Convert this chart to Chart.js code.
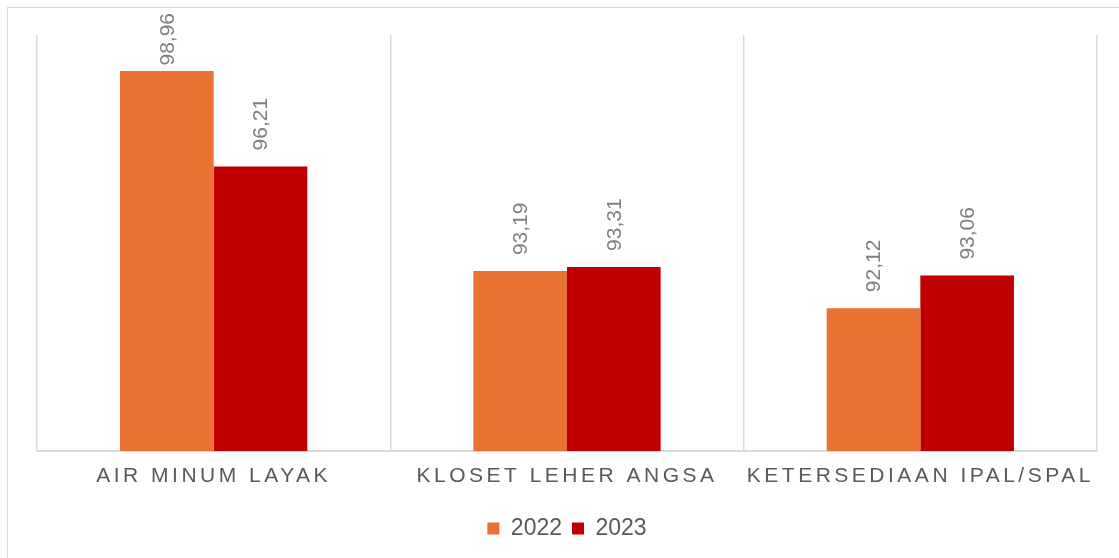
<!DOCTYPE html>
<html>
<head>
<meta charset="utf-8">
<script src="https://cdn.jsdelivr.net/npm/chart.js@4/dist/chart.umd.min.js"></script>
<style>
  html, body { margin: 0; padding: 0; background: #ffffff; }
  #wrap { position: relative; width: 1119px; height: 558px; overflow: hidden; }
  #frame { position: absolute; left: 7px; top: 7px; width: 1200px; height: 700px;
           border-left: 1.5px solid #d9d9d9; border-top: 1.5px solid #d9d9d9; box-sizing: border-box; }
  canvas { position: absolute; left: 0; top: 0; }
</style>
</head>
<body>
<div id="wrap">
  <div id="frame"></div>
  <canvas id="c" width="1119" height="558"></canvas>
</div>
<script>
const categories = ['AIR MINUM LAYAK', 'KLOSET LEHER ANGSA', 'KETERSEDIAAN IPAL/SPAL'];
const seriesNames = ['2022', '2023'];
const values2022 = [98.96, 93.19, 92.12];
const values2023 = [96.21, 93.31, 93.06];
const yMin = 88;
const yMax = 100;

const FONT = '"Liberation Sans", Arial, sans-serif';

// letter-spaced category labels on the x axis only
const letterSpacingPlugin = {
  id: 'letterSpacing',
  beforeDraw(chart) {
    const sx = chart.scales.x;
    if (sx && !sx._lsPatched) {
      const orig = sx.drawLabels.bind(sx);
      sx.drawLabels = function (area) {
        const ctx = chart.ctx;
        ctx.save();
        ctx.letterSpacing = '3.5px';
        orig(area);
        ctx.restore();
      };
      sx._lsPatched = true;
    }
  }
};

const valueLabels = {
  id: 'valueLabels',
  afterDatasetsDraw(chart) {
    const ctx = chart.ctx;
    ctx.save();
    ctx.font = '21px ' + FONT;
    ctx.fillStyle = '#808080';
    ctx.textAlign = 'left';
    ctx.textBaseline = 'middle';
    chart.data.datasets.forEach((ds, di) => {
      const meta = chart.getDatasetMeta(di);
      meta.data.forEach((el, i) => {
        const txt = ds.data[i].toFixed(2).replace('.', ',');
        const w = ctx.measureText(txt).width;
        const start = Math.max(el.y - 16, 13 + w);
        ctx.save();
        ctx.translate(el.x + 1, start);
        ctx.rotate(-Math.PI / 2);
        ctx.fillText(txt, 0, 0);
        ctx.restore();
      });
    });
    ctx.restore();
  }
};

new Chart(document.getElementById('c'), {
  type: 'bar',
  data: {
    labels: categories,
    datasets: [
      { label: seriesNames[0], data: values2022, backgroundColor: '#E97132', borderWidth: 0,
        categoryPercentage: 0.53, barPercentage: 1.0 },
      { label: seriesNames[1], data: values2023, backgroundColor: '#C00000', borderWidth: 0,
        categoryPercentage: 0.53, barPercentage: 1.0 }
    ]
  },
  options: {
    responsive: false,
    animation: false,
    devicePixelRatio: 1,
    layout: { padding: { left: 37, right: 22, top: 35, bottom: 8 } },
    scales: {
      x: {
        afterFit(scale) { scale.height = 56; },
        grid: { display: true, offset: true, color: '#d9d9d9', lineWidth: 1.5, drawTicks: false },
        border: { display: true, color: '#d9d9d9', width: 2 },
        ticks: { color: '#595959', font: { family: FONT, size: 21, lineHeight: 44 / 21 }, padding: 3,
                 maxRotation: 0, autoSkip: false }
      },
      y: { display: false, min: yMin, max: yMax }
    },
    plugins: {
      legend: {
        position: 'bottom',
        labels: { color: '#595959', font: { family: FONT, size: 23 }, boxWidth: 12, boxHeight: 12, padding: 10 }
      },
      tooltip: { enabled: false }
    }
  },
  plugins: [letterSpacingPlugin, valueLabels]
});
</script>
</body>
</html>
